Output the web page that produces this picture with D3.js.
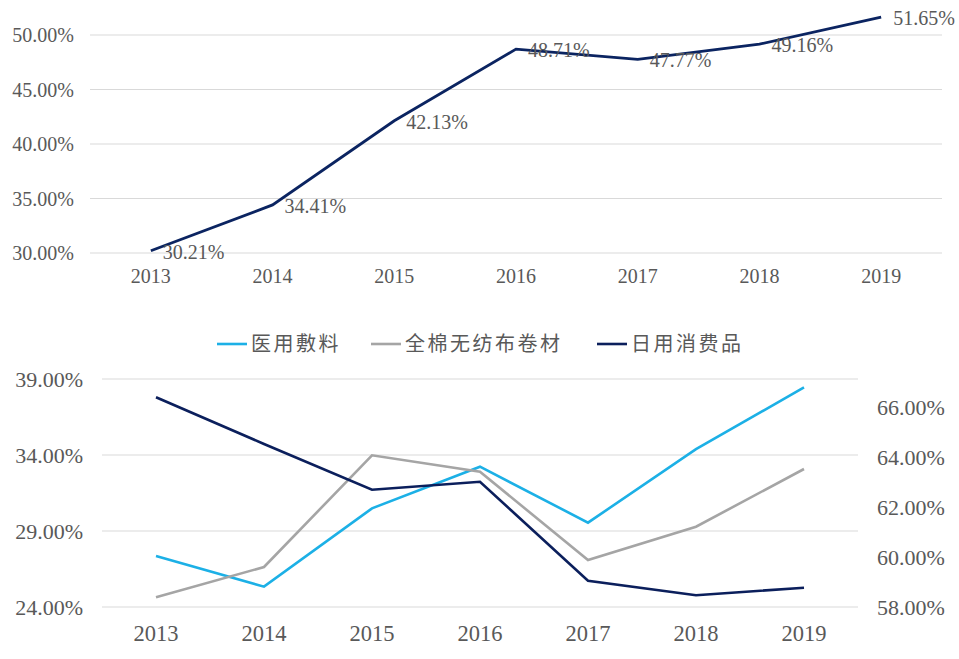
<!DOCTYPE html>
<html>
<head>
<meta charset="utf-8">
<script src="https://cdn.jsdelivr.net/npm/d3@7"></script>
<style>
  body { margin: 0; background: #fff; }
  text { font-family: "Liberation Serif", serif; fill: #595959; }
  .legend text { font-family: "Noto Sans CJK SC", sans-serif; letter-spacing: 2.5px; }
</style>
</head>
<body>
<svg width="959" height="659"></svg>
<script>
const years = ["2013", "2014", "2015", "2016", "2017", "2018", "2019"];
const totalRate = [30.21, 34.41, 42.13, 48.71, 47.77, 49.16, 51.65];
const topTicks = [30, 35, 40, 45, 50];

const seriesNames = ["医用敷料", "全棉无纺布卷材", "日用消费品"];
const medical = [27.36, 25.34, 30.49, 33.23, 29.55, 34.38, 38.45];
const cotton = [24.64, 26.63, 33.98, 32.9, 27.09, 29.28, 33.08];
const consumer = [66.39, 64.52, 62.69, 63.01, 59.05, 58.47, 58.77];
const leftTicks = [24, 29, 34, 39];
const rightTicks = [58, 60, 62, 64, 66];

const svg = d3.select("svg");
const fmt = d => d.toFixed(2) + "%";

// ---- top chart ----
const x1 = d3.scaleBand().domain(years).range([90, 942]);
const y1 = d3.scaleLinear().domain([30, 50]).range([253, 35]);

const topG = svg.append("g");
topG.selectAll(".grid")
  .data(topTicks)
  .join("line")
  .attr("x1", 90).attr("x2", 942)
  .attr("y1", d => y1(d)).attr("y2", d => y1(d))
  .attr("stroke", "#d9d9d9").attr("stroke-width", 1);

topG.selectAll(".ytick")
  .data(topTicks)
  .join("text")
  .attr("x", 74)
  .attr("y", d => y1(d))
  .attr("dy", "0.35em")
  .attr("text-anchor", "end")
  .attr("font-size", 20)
  .text(fmt);

topG.selectAll(".xtick")
  .data(years)
  .join("text")
  .attr("x", d => x1(d) + x1.bandwidth() / 2)
  .attr("y", 276)
  .attr("dy", "0.35em")
  .attr("text-anchor", "middle")
  .attr("font-size", 20)
  .text(d => d);

const line1 = d3.line()
  .x((d, i) => x1(years[i]) + x1.bandwidth() / 2)
  .y(d => y1(d));

topG.append("path")
  .attr("d", line1(totalRate))
  .attr("fill", "none")
  .attr("stroke", "#0b2461")
  .attr("stroke-width", 2.8);

topG.selectAll(".lbl")
  .data(totalRate)
  .join("text")
  .attr("x", (d, i) => x1(years[i]) + x1.bandwidth() / 2 + 12)
  .attr("y", d => y1(d) + 1)
  .attr("dy", "0.35em")
  .attr("font-size", 20)
  .text(fmt);

// ---- bottom chart ----
const x2 = d3.scaleBand().domain(years).range([102, 858]);
const yL = d3.scaleLinear().domain([24, 39]).range([607, 379]);
const yR = d3.scaleLinear().domain([58, 67.12]).range([607, 379]);

const bot = svg.append("g");
bot.selectAll(".grid")
  .data(leftTicks)
  .join("line")
  .attr("x1", 102).attr("x2", 858)
  .attr("y1", d => yL(d)).attr("y2", d => yL(d))
  .attr("stroke", "#d9d9d9").attr("stroke-width", 1);

bot.selectAll(".ytickL")
  .data(leftTicks)
  .join("text")
  .attr("x", 83)
  .attr("y", d => yL(d))
  .attr("dy", "0.35em")
  .attr("text-anchor", "end")
  .attr("font-size", 22)
  .text(fmt);

bot.selectAll(".ytickR")
  .data(rightTicks)
  .join("text")
  .attr("x", 877)
  .attr("y", d => yR(d))
  .attr("dy", "0.35em")
  .attr("font-size", 22)
  .text(fmt);

bot.selectAll(".xtick")
  .data(years)
  .join("text")
  .attr("x", d => x2(d) + x2.bandwidth() / 2)
  .attr("y", 633)
  .attr("dy", "0.35em")
  .attr("text-anchor", "middle")
  .attr("font-size", 22.5)
  .text(d => d);

const colors = ["#1cb0e6", "#a5a5a5", "#0b1f5c"];
const seriesData = [
  { vals: medical, y: yL },
  { vals: cotton, y: yL },
  { vals: consumer, y: yR }
];

seriesData.forEach((s, k) => {
  const ln = d3.line()
    .x((d, i) => x2(years[i]) + x2.bandwidth() / 2)
    .y(d => s.y(d));
  bot.append("path")
    .attr("d", ln(s.vals))
    .attr("fill", "none")
    .attr("stroke", colors[k])
    .attr("stroke-width", 2.6);
});

// legend
const legendX = [217, 371, 597];
const legend = svg.append("g").attr("class", "legend");
seriesNames.forEach((name, k) => {
  legend.append("line")
    .attr("x1", legendX[k]).attr("x2", legendX[k] + 30)
    .attr("y1", 344).attr("y2", 344)
    .attr("stroke", colors[k]).attr("stroke-width", 2.6);
  legend.append("text")
    .attr("x", legendX[k] + 34)
    .attr("y", 344)
    .attr("dy", "0.35em")
    .attr("font-size", 20)
    .text(name);
});
</script>
</body>
</html>
